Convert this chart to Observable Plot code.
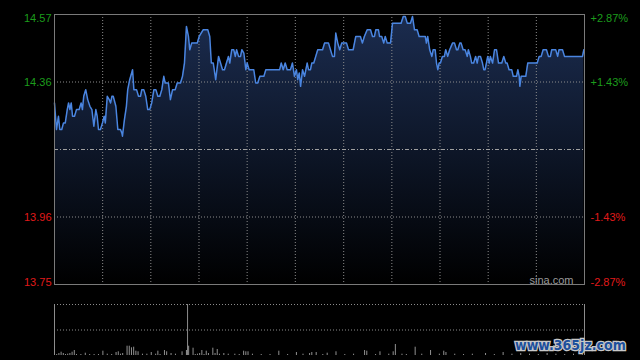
<!DOCTYPE html>
<html><head><meta charset="utf-8">
<script src="https://cdn.jsdelivr.net/npm/d3@7"></script>
<script src="https://cdn.jsdelivr.net/npm/@observablehq/plot@0.6"></script>
<style>
html,body{margin:0;padding:0;background:#000;}
#wrap{position:relative;width:640px;height:360px;background:#000;overflow:hidden;}
#price{position:absolute;left:0;top:0;}
#vol{position:absolute;left:0;top:290px;}
#wm{position:absolute;left:512px;top:334px;pointer-events:none;}
</style></head><body>
<div id="wrap"><div id="price"></div><div id="vol"></div>
<svg id="wm" width="128" height="24"><text x="3" y="16" font-family="'DejaVu Sans Condensed', 'DejaVu Sans', sans-serif" font-weight="bold" font-size="14" fill="#1d4f9c" stroke="#c8c8c8" stroke-width="2.5" paint-order="stroke">www.365jz.com</text></svg>
</div>
<script>
// ---- price series (minute index from open, price) ----
const minutes = [0,0.9,1.8,2.4,3.3,4.1,4.9,5.8,6.4,7.0,7.6,8.2,9.1,10.0,11.2,12.1,12.7,13.3,14.2,15.1,16.1,17.0,17.9,18.8,19.4,20.0,20.9,21.8,22.6,23.1,24.0,24.9,25.5,26.1,26.7,27.9,28.8,30.0,30.6,30.9,31.8,32.7,33.3,34.2,35.5,36.1,37.3,38.2,39.1,39.7,40.6,41.5,42.4,43.3,44.2,45.2,46.1,47.0,47.9,48.8,49.7,50.3,51.8,52.7,53.7,54.9,55.8,57.3,58.2,59.1,60.0,60.9,61.5,62.4,64.9,65.8,66.7,67.6,69.7,70.6,71.3,72.2,73.3,74.6,75.5,76.4,77.3,78.2,79.1,79.7,80.6,81.5,82.2,82.8,83.7,84.6,85.2,86.1,87.0,87.6,88.5,90.6,91.5,92.4,93.4,95.2,96.1,102.4,103.1,104.0,104.9,105.8,107.3,108.2,109.1,110.0,110.6,111.3,111.9,112.8,113.7,114.9,115.5,116.4,117.0,117.9,118.8,119.7,121.9,122.8,124.6,125.5,126.4,127.3,127.9,128.8,129.7,130.6,132.8,133.7,135.8,137.0,139.1,140.0,140.9,142.2,143.7,144.6,145.5,146.1,147.3,147.8,148.8,149.7,150.4,151.3,152.8,153.7,157.6,158.6,159.5,160.4,161.9,162.8,163.7,164.9,165.8,168.6,169.1,169.7,170.6,171.6,172.2,173.1,173.7,174.3,174.9,175.5,176.4,177.3,177.9,178.8,179.7,181.0,181.9,182.8,183.4,184.3,184.9,185.8,186.7,187.7,188.2,189.1,189.7,190.6,191.5,192.2,192.8,193.7,194.6,195.2,195.8,196.4,197.0,197.7,198.2,199.2,200.1,201.0,201.9,203.4,204.3,205.2,205.8,206.7,207.9,208.6,210.1,210.7,211.3,211.6,212.2,214.3,215.2,219.5,220.4,221.3,222.2,223.7,224.6,225.5,226.1,227.9,228.8,229.4,231.0,231.9,240.1,240.7];
const prices = [14.30,14.22,14.26,14.22,14.22,14.24,14.24,14.28,14.30,14.28,14.30,14.26,14.26,14.28,14.28,14.30,14.28,14.32,14.34,14.31,14.29,14.28,14.23,14.28,14.26,14.22,14.22,14.24,14.26,14.24,14.32,14.31,14.30,14.32,14.32,14.29,14.22,14.22,14.21,14.20,14.25,14.29,14.34,14.37,14.40,14.34,14.34,14.32,14.32,14.34,14.34,14.32,14.28,14.28,14.30,14.34,14.34,14.32,14.32,14.34,14.38,14.36,14.36,14.31,14.34,14.34,14.36,14.36,14.38,14.42,14.53,14.50,14.46,14.48,14.48,14.50,14.51,14.52,14.52,14.50,14.42,14.42,14.37,14.44,14.42,14.40,14.40,14.42,14.44,14.42,14.46,14.46,14.44,14.46,14.44,14.44,14.46,14.45,14.40,14.42,14.40,14.40,14.36,14.36,14.38,14.38,14.40,14.40,14.42,14.40,14.42,14.40,14.40,14.42,14.38,14.40,14.37,14.39,14.35,14.40,14.38,14.42,14.40,14.40,14.42,14.42,14.44,14.46,14.46,14.48,14.48,14.46,14.44,14.44,14.51,14.48,14.46,14.48,14.48,14.46,14.46,14.50,14.50,14.48,14.50,14.52,14.52,14.50,14.50,14.52,14.52,14.50,14.50,14.48,14.50,14.48,14.48,14.54,14.54,14.56,14.56,14.54,14.54,14.56,14.52,14.52,14.50,14.50,14.48,14.50,14.46,14.44,14.46,14.46,14.42,14.40,14.42,14.42,14.44,14.44,14.46,14.44,14.46,14.48,14.48,14.46,14.46,14.48,14.48,14.46,14.46,14.44,14.46,14.44,14.42,14.42,14.44,14.42,14.44,14.44,14.42,14.40,14.40,14.42,14.44,14.42,14.44,14.42,14.46,14.46,14.42,14.42,14.44,14.42,14.42,14.40,14.40,14.38,14.38,14.40,14.38,14.35,14.38,14.38,14.42,14.42,14.44,14.44,14.46,14.46,14.44,14.44,14.46,14.46,14.44,14.46,14.46,14.44,14.44,14.46];

// ---- volume (minute index, shares) ----
const volMinutes = [0,1,2,3,4,5,6,7,8,9,10,12,14,16,18,20,22,24,26,28,29,30,31,33,34,35,36,37,38,40,42,44,46,47,48,50,51,53,55,58,60,61,63,64,65,66,67,68,69,70,72,73,74,75,77,79,82,84,86,87,88,90,94,98,102,106,110,113,116,117,119,122,124,128,132,136,141,142,146,148,152,154,155,158,160,164,167,171,175,177,178,182,186,190,196,200,204,208,212,216,220,224,228,232,236,240];
const volumes = [930,100,200,330,200,100,130,200,330,500,100,100,230,100,100,100,430,130,100,300,370,130,200,930,930,770,830,430,370,130,130,300,130,430,100,500,370,200,130,370,500,930,730,100,130,200,500,100,430,200,730,200,600,130,200,130,130,100,430,370,370,130,100,100,430,100,300,130,200,300,300,100,230,370,100,130,500,430,100,370,130,370,1100,130,100,830,130,500,130,430,300,130,100,130,200,100,300,130,200,130,100,200,130,100,130,100];
const volMarker = [60.5];

// ---- scales / ticks ----
const sessionMinutes = [0, 241];
const priceRange = [13.754, 14.566];
const prevClose = 14.16;
const gridMinutes = [21.9, 43.8, 65.7, 87.6, 109.5, 131.5, 153.4, 175.3, 197.2, 219.1];
const gridPrices = [14.363, 13.957];
const priceTicks = [14.566, 14.363, 13.957, 13.754];
const priceLabels = ["14.57", "14.36", "13.96", "13.75"];
const pctLabels = ["+2.87%", "+1.43%", "-1.43%", "-2.87%"];
const volMax = 5100;

const series = minutes.map((m, i) => ({m, p: prices[i]}));
const volData = volMinutes.map((m, i) => ({m, v: volumes[i]}));
const rows = priceTicks.map((v, i) => ({v, price: priceLabels[i], pct: pctLabels[i],
  color: v > prevClose ? "#1c9c1c" : "#e01a1a"}));

const gradMark = () => {
  const ns = "http://www.w3.org/2000/svg";
  const defs = document.createElementNS(ns, "defs");
  const g = document.createElementNS(ns, "linearGradient");
  g.setAttribute("id", "pgrad");
  g.setAttribute("x1", "0"); g.setAttribute("y1", "0");
  g.setAttribute("x2", "0"); g.setAttribute("y2", "1");
  [["0", "#1b2c4f"], ["0.55", "#0c1424"], ["1", "#000000"]].forEach(([o, c]) => {
    const s = document.createElementNS(ns, "stop");
    s.setAttribute("offset", o); s.setAttribute("stop-color", c);
    g.appendChild(s);
  });
  defs.appendChild(g);
  return defs;
};

function labelMarks(subset, lineAnchor, dy) {
  return [
    Plot.text(subset, {y: "v", text: "price", fill: "color", frameAnchor: "left", textAnchor: "end", dx: -3, dy, lineAnchor, fontSize: 11}),
    Plot.text(subset, {y: "v", text: "pct", fill: "color", frameAnchor: "right", textAnchor: "start", dx: 6, dy, lineAnchor, fontSize: 11})
  ];
}

const pricePlot = Plot.plot({
  width: 640, height: 290,
  marginTop: 14, marginRight: 56, marginBottom: 6, marginLeft: 54,
  x: {domain: sessionMinutes, axis: null},
  y: {domain: priceRange, axis: null},
  color: {type: "identity"},
  style: {background: "#000", fontFamily: "'Liberation Sans', Arial, sans-serif", fontSize: "11px", overflow: "visible"},
  marks: [
    gradMark,
    Plot.areaY(series, {x: "m", y1: priceRange[0], y2: "p", fill: "url(#pgrad)"}),
    Plot.ruleX(gridMinutes, {stroke: "#8c8c8c", strokeDasharray: "1,2"}),
    Plot.ruleY(gridPrices, {stroke: "#8c8c8c", strokeDasharray: "1,2"}),
    Plot.ruleY([prevClose], {stroke: "#a0a0a0", strokeDasharray: "4,2,1,2"}),
    Plot.line(series, {x: "m", y: "p", stroke: "#4a85e0", strokeWidth: 1.5}),
    Plot.frame({stroke: "#7a7a7a"}),
    ...labelMarks(rows.slice(0, 1), "top", 0),
    ...labelMarks(rows.slice(1, 3), "middle", 0),
    ...labelMarks(rows.slice(3), "bottom", 1),
    Plot.text(["sina.com"], {text: d => d, frameAnchor: "bottom-right", dx: -11, dy: -1, fill: "#9a9a9a", fontSize: 11})
  ]
});
document.getElementById("price").appendChild(pricePlot);

const volPlot = Plot.plot({
  width: 640, height: 65,
  marginTop: 14, marginRight: 56, marginBottom: 0, marginLeft: 54,
  x: {domain: sessionMinutes, axis: null},
  y: {domain: [0, volMax], axis: null},
  style: {background: "transparent", overflow: "visible"},
  marks: [
    Plot.ruleY([volMax, volMax / 2], {stroke: "#8c8c8c", strokeDasharray: "1,2"}),
    Plot.ruleX(sessionMinutes, {stroke: "#8c8c8c"}),
    Plot.ruleX(volMarker, {stroke: "#8c8c8c"}),
    Plot.ruleX(volData, {x: "m", y1: 0, y2: "v", stroke: "#909090"})
  ]
});
document.getElementById("vol").appendChild(volPlot);
</script>
</body></html>
